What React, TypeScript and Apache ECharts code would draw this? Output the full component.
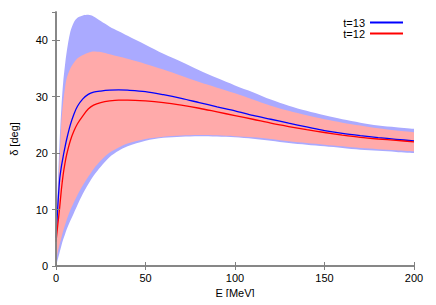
import React, { useEffect, useRef } from "react";
import * as echarts from "echarts";

const energies = [0, 1, 2, 3, 4, 5, 6, 8, 10, 12, 15, 18, 21, 25, 30, 35, 40, 50, 60, 70, 80, 90, 100, 110, 120, 130, 140, 150, 160, 170, 180, 190, 200];

const blueUpper = [5, 14, 22, 28, 32.5, 35.5, 38, 41.5, 43.2, 44.0, 44.4, 44.5, 44.2, 43.4, 42.4, 41.6, 40.8, 39.2, 37.6, 36.2, 34.7, 33.3, 32.0, 30.8, 29.5, 28.4, 27.5, 26.7, 26.0, 25.4, 24.9, 24.6, 24.3];
const redUpper = [4.5, 12, 19, 25.5, 29, 31.5, 33.3, 35, 36, 36.8, 37.4, 37.8, 38.0, 37.9, 37.5, 37.1, 36.7, 35.8, 34.8, 33.7, 32.6, 31.6, 30.6, 29.5, 28.4, 27.5, 26.7, 26.0, 25.4, 24.9, 24.4, 24.0, 23.7];
const redLower = [1, 2.5, 3.8, 5, 6.2, 7.2, 8.2, 9.9, 11.3, 12.6, 14.3, 15.8, 17.2, 18.7, 20.1, 21.0, 21.7, 22.5, 22.9, 23.1, 23.2, 23.15, 23.0, 22.8, 22.5, 22.1, 21.8, 21.5, 21.2, 20.9, 20.7, 20.5, 20.3];
const blueLower = [0, 1.2, 2.4, 3.6, 4.7, 5.6, 6.5, 8.0, 9.4, 10.8, 12.8, 14.5, 16.0, 17.6, 19.3, 20.4, 21.2, 22.2, 22.7, 22.9, 23.0, 22.95, 22.8, 22.55, 22.2, 21.8, 21.5, 21.2, 20.9, 20.6, 20.4, 20.2, 20.0];
const line13 = [5, 10.5, 15.2, 17.6, 19.4, 21, 22.5, 25, 26.9, 28.3, 29.6, 30.4, 30.8, 31.0, 31.15, 31.2, 31.15, 30.9, 30.35, 29.7, 28.95, 28.2, 27.5, 26.7, 26.0, 25.3, 24.65, 24.0, 23.5, 23.1, 22.75, 22.45, 22.15];
const line12 = [4.3, 7.3, 10.2, 13.5, 16.2, 18.2, 19.8, 22.2, 23.9, 25.2, 26.6, 27.8, 28.5, 28.95, 29.25, 29.4, 29.4, 29.25, 28.95, 28.5, 27.95, 27.3, 26.65, 26.0, 25.3, 24.7, 24.15, 23.65, 23.2, 22.8, 22.5, 22.25, 22.0];

const xTicks = { min: 0, max: 200, interval: 50 };
const yTicks = { min: 0, max: 45, interval: 10 };

const pairs = (ys: number[]) => energies.map((e, i) => [e, ys[i]]);

export default function App() {
  const ref = useRef<HTMLDivElement>(null);
  useEffect(() => {
    if (!ref.current) return;
    const chart = echarts.init(ref.current, null, { renderer: "svg" });
    const gray = "#808080";
    const font = "Liberation Sans, Arial, sans-serif";
    // Bands drawn as areas filled down to the axis, painted in order
    const fill = (name: string, ys: number[], color: string) => ({
      name,
      type: "line",
      data: pairs(ys),
      symbol: "none",
      smooth: 0.3,
      silent: true,
      lineStyle: { width: 0, opacity: 0 },
      areaStyle: { color, opacity: 1, origin: "start" },
      z: 1,
    });
    chart.setOption({
      animation: false,
      textStyle: { fontFamily: font },
      grid: { left: 52, right: 22, top: 12, bottom: 39, show: false },
      legend: {
        data: [
          { name: "t=13", icon: "rect" },
          { name: "t=12", icon: "rect" },
        ],
        orient: "vertical",
        align: "right",
        right: 33,
        top: 17,
        padding: 0,
        itemWidth: 33,
        itemHeight: 2,
        itemGap: 0,
        textStyle: { fontSize: 11, lineHeight: 11, color: "#000", fontFamily: font },
      },
      xAxis: [
        {
          type: "value",
          ...xTicks,
          position: "bottom",
          name: "E [MeV]",
          nameLocation: "middle",
          nameGap: 15,
          nameTextStyle: { fontSize: 11, color: "#000" },
          axisLine: { show: true, lineStyle: { color: gray, width: 1.5 } },
          axisTick: { inside: true, length: 4, lineStyle: { color: gray } },
          axisLabel: { fontSize: 11, color: "#000", margin: 6 },
          splitLine: { show: false },
          z: 5,
        },
        {
          type: "value",
          ...xTicks,
          position: "top",
          axisLine: { show: true, lineStyle: { color: gray, width: 1.5 } },
          axisTick: { inside: true, length: 4, lineStyle: { color: gray } },
          axisLabel: { show: false },
          splitLine: { show: false },
          z: 5,
        },
      ],
      yAxis: [
        {
          type: "value",
          ...yTicks,
          position: "left",
          name: "δ [deg]",
          nameLocation: "middle",
          nameGap: 37,
          nameTextStyle: { fontSize: 11, color: "#000" },
          axisLine: { show: true, lineStyle: { color: gray, width: 1.5 } },
          axisTick: { inside: true, length: 4, lineStyle: { color: gray } },
          axisLabel: {
            fontSize: 11,
            color: "#000",
            margin: 8,
            showMaxLabel: false,
            formatter: (v: number) => (v % 10 === 0 ? String(v) : ""),
          },
          splitLine: { show: false },
          z: 5,
        },
        {
          type: "value",
          ...yTicks,
          position: "right",
          axisLine: { show: true, lineStyle: { color: gray, width: 1.5 } },
          axisTick: { inside: true, length: 4, lineStyle: { color: gray } },
          axisLabel: { show: false },
          splitLine: { show: false },
          z: 5,
        },
      ],
      series: [
        fill("bu", blueUpper, "#aaaaff"),
        fill("ru", redUpper, "#ffaaaa"),
        fill("rl", redLower, "#aaaaff"),
        fill("bl", blueLower, "#ffffff"),
        {
          name: "t=13",
          type: "line",
          data: pairs(line13),
          symbol: "none",
          smooth: 0.3,
          lineStyle: { color: "#0000ff", width: 1.3 },
          itemStyle: { color: "#0000ff" },
          z: 3,
        },
        {
          name: "t=12",
          type: "line",
          data: pairs(line12),
          symbol: "none",
          smooth: 0.3,
          lineStyle: { color: "#ff0000", width: 1.3 },
          itemStyle: { color: "#ff0000" },
          z: 3,
        },
      ],
    });
    return () => chart.dispose();
  }, []);
  return <div ref={ref} style={{ width: 436, height: 305, margin: -8 }} />;
}
